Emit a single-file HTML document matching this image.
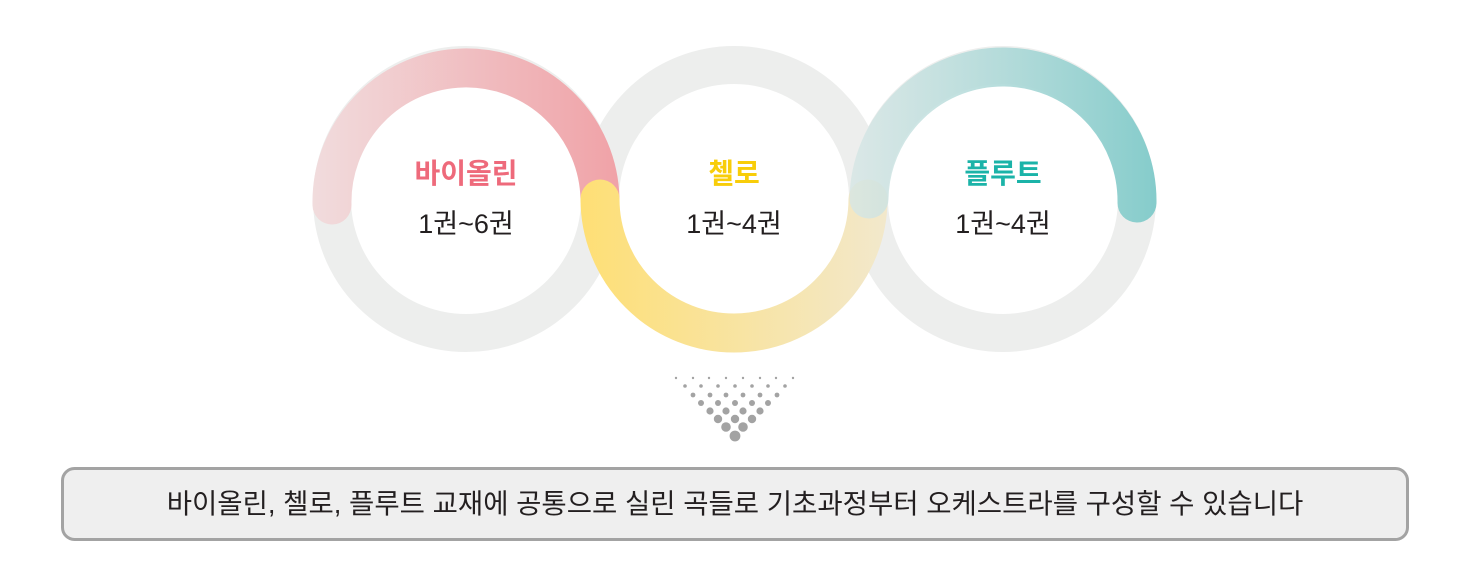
<!DOCTYPE html>
<html><head><meta charset="utf-8"><style>
body{margin:0;width:1471px;height:578px;background:#fff;overflow:hidden;font-family:"Liberation Sans","Noto Sans CJK KR",sans-serif;}
</style></head><body>
<svg width="1471" height="578" viewBox="0 0 1471 578" xmlns="http://www.w3.org/2000/svg" style="position:absolute;left:0;top:0">
<defs>
<linearGradient id="pk" x1="312" y1="0" x2="620" y2="0" gradientUnits="userSpaceOnUse"><stop offset="0" stop-color="#f1dcdd"/><stop offset="1" stop-color="#f0a2a7"/></linearGradient>
<linearGradient id="yl" x1="581" y1="0" x2="888" y2="0" gradientUnits="userSpaceOnUse"><stop offset="0" stop-color="#fedf75"/><stop offset="1" stop-color="#f2e8cc"/></linearGradient>
<linearGradient id="tl" x1="850" y1="0" x2="1157" y2="0" gradientUnits="userSpaceOnUse"><stop offset="0" stop-color="#d6e6e5" stop-opacity="0.8"/><stop offset="1" stop-color="#85cccb"/></linearGradient>
</defs>
<g fill="none" stroke="#edeeed" stroke-width="38">
<circle cx="466" cy="199" r="134"/>
<circle cx="734" cy="199" r="134"/>
<circle cx="1003" cy="199" r="134"/>
</g>
<g fill="none" stroke-width="39" stroke-linecap="round">
<path d="M332,205 A134,134 0 1 1 600,199" stroke="url(#pk)"/>
<path d="M600,199 A134,134 0 0 0 868,199" stroke="url(#yl)"/>
<path d="M869,199 A134,134 0 0 1 1137,203" stroke="url(#tl)"/>
</g>
<g font-weight="bold" font-size="28" text-anchor="middle">
<text x="466" y="183" fill="#ee6a7b">바이올린</text>
<text x="734" y="183" fill="#f8cd0a">첼로</text>
<text x="1003" y="183" fill="#1bb3a8">플루트</text>
</g>
<g font-size="27" text-anchor="middle" fill="#231f20">
<text x="466" y="233">1권~6권</text>
<text x="734" y="233">1권~4권</text>
<text x="1003" y="233">1권~4권</text>
</g>
<g fill="#a3a3a3">
<circle cx="676" cy="378" r="1.2"/><circle cx="693" cy="378" r="1.2"/><circle cx="709" cy="378" r="1.2"/><circle cx="726" cy="378" r="1.2"/><circle cx="743" cy="378" r="1.2"/><circle cx="760" cy="378" r="1.2"/><circle cx="776" cy="378" r="1.2"/><circle cx="793" cy="378" r="1.2"/>
<circle cx="685" cy="386" r="1.8"/><circle cx="701" cy="386" r="1.8"/><circle cx="718" cy="386" r="1.8"/><circle cx="735" cy="386" r="1.8"/><circle cx="752" cy="386" r="1.8"/><circle cx="768" cy="386" r="1.8"/><circle cx="785" cy="386" r="1.8"/>
<circle cx="693" cy="395" r="2.4"/><circle cx="710" cy="395" r="2.4"/><circle cx="726" cy="395" r="2.4"/><circle cx="743" cy="395" r="2.4"/><circle cx="760" cy="395" r="2.4"/><circle cx="777" cy="395" r="2.4"/>
<circle cx="701" cy="403" r="3"/><circle cx="718" cy="403" r="3"/><circle cx="735" cy="403" r="3"/><circle cx="752" cy="403" r="3"/><circle cx="768" cy="403" r="3"/>
<circle cx="710" cy="411" r="3.6"/><circle cx="726" cy="411" r="3.6"/><circle cx="743" cy="411" r="3.6"/><circle cx="760" cy="411" r="3.6"/>
<circle cx="718" cy="419" r="4.2"/><circle cx="735" cy="419" r="4.2"/><circle cx="752" cy="419" r="4.2"/>
<circle cx="726" cy="427" r="4.8"/><circle cx="743" cy="427" r="4.8"/>
<circle cx="735" cy="436" r="5.4"/>
</g>
<rect x="62.5" y="468.5" width="1345" height="71" rx="12" fill="#efefef" stroke="#a3a3a3" stroke-width="3"/>
<text x="735" y="513" font-size="27.5" text-anchor="middle" fill="#231f20">바이올린, 첼로, 플루트 교재에 공통으로 실린 곡들로 기초과정부터 오케스트라를 구성할 수 있습니다</text>
</svg>
</body></html>
